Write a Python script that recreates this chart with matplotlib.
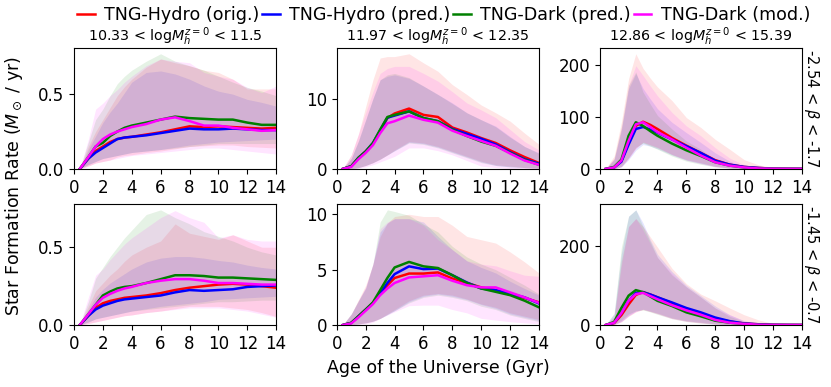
import matplotlib
matplotlib.use('Agg')
import matplotlib.pyplot as plt
import numpy as np

# age grid (Gyr)
age = [0.4, 1, 1.5, 2, 2.5, 3, 3.5, 4, 5, 6, 7, 8, 9, 10, 11, 12, 13, 14]

labels = ['TNG-Hydro (orig.)', 'TNG-Hydro (pred.)', 'TNG-Dark (pred.)', 'TNG-Dark (mod.)']
colors = ['red', 'blue', 'green', 'magenta']
mass_bins = [r'10.33 < log$M_h^{z=0}$ < 11.5', r'11.97 < log$M_h^{z=0}$ < 12.35',
             r'12.86 < log$M_h^{z=0}$ < 15.39']
beta_bins = [r'-2.54 < $\beta$ < -1.7', r'-1.45 < $\beta$ < -0.7']

# ---- row 1, col 1
a_red = [0, .07, .12, .15, .18, .20, .21, .215, .23, .245, .265, .285, .28, .285, .28, .275, .27, .275]
a_blue = [0, .07, .11, .14, .17, .20, .21, .215, .225, .24, .255, .27, .265, .265, .27, .265, .26, .26]
a_green = [0, .08, .15, .175, .22, .25, .275, .29, .31, .33, .35, .34, .335, .33, .33, .31, .295, .295]
a_mag = [0, .08, .15, .20, .23, .25, .265, .28, .30, .33, .345, .32, .29, .29, .275, .265, .255, .26]
a_red_lo = [0, .02, .04, .05, .06, .08, .09, .095, .11, .12, .135, .15, .155, .16, .16, .15, .145, .14]
a_red_hi = [0, .15, .25, .33, .41, .49, .55, .60, .68, .735, .71, .69, .66, .645, .60, .535, .535, .535]
a_blue_lo = [0, .03, .05, .07, .08, .09, .10, .11, .12, .13, .145, .16, .17, .18, .185, .19, .195, .20]
a_blue_hi = [0, .13, .22, .31, .38, .44, .51, .58, .645, .655, .635, .60, .555, .52, .50, .465, .445, .42]
a_green_lo = [0, .03, .05, .07, .08, .09, .10, .11, .12, .13, .14, .15, .16, .17, .17, .17, .17, .17]
a_green_hi = [0, .18, .33, .40, .49, .57, .62, .66, .72, .77, .72, .69, .66, .62, .58, .545, .52, .49]
a_mag_lo = [0, .02, .04, .05, .06, .07, .08, .09, .10, .11, .12, .13, .14, .14, .13, .12, .11, .10]
a_mag_hi = [0, .20, .40, .44, .49, .53, .58, .62, .69, .735, .72, .71, .645, .62, .60, .545, .51, .555]

# ---- row 1, col 2
b_red = [0, .4, 1.6, 2.5, 3.6, 5.35, 7.25, 7.9, 8.6, 7.7, 7.4, 5.9, 5.2, 4.4, 3.7, 2.65, 1.7, .85]
b_blue = [0, .4, 1.6, 2.5, 3.7, 5.5, 7.3, 7.6, 8.2, 7.25, 6.8, 5.7, 5.0, 4.3, 3.5, 2.4, 1.4, .75]
b_green = [0, .4, 1.6, 2.5, 3.7, 5.6, 7.4, 7.7, 8.2, 7.25, 6.8, 5.6, 4.7, 3.9, 3.3, 2.3, 1.3, .6]
b_mag = [0, .3, 1.4, 2.3, 3.4, 5.1, 6.5, 6.8, 7.6, 7.0, 6.6, 5.45, 4.7, 4.0, 3.3, 2.2, 1.2, .6]
b_red_lo = [0, .05, .2, .5, .9, 1.4, 2.0, 2.7, 3.9, 3.7, 3.2, 2.5, 1.8, 1.1, .6, .4, .2, .1]
b_red_hi = [0, 2.0, 5.0, 8.9, 12.7, 15.8, 16.0, 16.0, 16.4, 15.1, 13.9, 12.0, 10.6, 9.1, 8.0, 6.8, 5.1, 3.5]
b_blue_lo = [0, .05, .2, .5, .9, 1.4, 2.0, 2.6, 3.8, 3.6, 3.1, 2.4, 1.7, 1.0, .5, .3, .2, .1]
b_blue_hi = [0, 1.5, 4.0, 7.0, 10.0, 12.7, 13.2, 13.4, 12.9, 11.8, 10.6, 9.4, 8.0, 7.0, 6.1, 4.6, 3.2, 2.3]
b_green_lo = [0, .05, .2, .5, .9, 1.4, 2.0, 2.6, 3.7, 3.5, 3.0, 2.3, 1.6, .9, .5, .3, .2, .1]
b_green_hi = [0, 1.5, 4.0, 7.0, 10.0, 12.7, 13.4, 13.6, 13.0, 11.8, 10.6, 9.3, 8.0, 7.0, 6.0, 4.5, 3.2, 2.2]
b_mag_lo = [0, .02, .1, .3, .6, 1.0, 1.4, 1.8, 3.0, 3.0, 2.6, 2.0, 1.2, .4, .2, .05, 0, 0]
b_mag_hi = [0, 2.0, 5.0, 8.0, 11.0, 13.6, 14.3, 14.6, 14.6, 13.6, 12.5, 11.0, 9.4, 8.4, 7.3, 5.6, 3.9, 2.7]

# ---- row 1, col 3
c_red = [0, 3, 15, 51, 83, 91, 85, 77, 60, 45, 31, 17, 8.4, 4, 2, .6, .3, .2]
c_blue = [0, 3, 14, 47, 77, 81, 76, 70, 57, 44, 31, 16, 8.4, 4, 2, .6, .3, .2]
c_green = [0, 4, 18, 64, 90, 83, 73, 64, 49, 36, 25, 13, 6.5, 3, 1, .5, .3, .2]
c_mag = [0, 3, 16, 54, 86, 90, 81, 71, 57, 41, 26, 13, 6.5, 3, 1, .5, .3, .2]
c_red_lo = [0, .5, 5, 21, 40, 51, 46, 41, 28, 18, 12, 5, 2, 1, 0, 0, 0, 0]
c_red_hi = [0, 25, 90, 174, 222, 194, 175, 158, 132, 99, 80, 57, 38, 18, 8, 3, 1, 1]
c_blue_lo = [0, .5, 4, 18, 36, 47, 44, 39, 27, 17, 11, 5, 2, 1, 0, 0, 0, 0]
c_blue_hi = [0, 18, 75, 155, 184, 155, 135, 116, 90, 70, 51, 31, 15, 5, 2, 1, .5, .5]
c_green_lo = [0, .5, 5, 22, 42, 50, 44, 38, 25, 15, 9, 4, 1.5, .5, 0, 0, 0, 0]
c_green_hi = [0, 20, 80, 161, 187, 148, 125, 103, 77, 54, 38, 18, 8, 3, 1, .5, .3, .3]
c_mag_lo = [0, .5, 4, 20, 40, 52, 47, 42, 28, 17, 10, 4, 1.5, .5, 0, 0, 0, 0]
c_mag_hi = [0, 20, 80, 161, 199, 180, 160, 141, 109, 83, 64, 41, 21, 8, 3, 1, .5, .5]

# ---- row 2, col 1
d_red = [0, .06, .11, .14, .155, .165, .175, .18, .19, .205, .225, .24, .25, .26, .265, .26, .25, .24]
d_blue = [0, .06, .10, .125, .14, .155, .165, .17, .18, .19, .21, .225, .22, .225, .23, .245, .25, .255]
d_green = [0, .07, .13, .19, .215, .235, .245, .25, .27, .295, .32, .32, .315, .305, .305, .30, .295, .29]
d_mag = [0, .07, .13, .175, .20, .22, .235, .245, .27, .285, .295, .295, .285, .27, .27, .265, .26, .26]
d_red_lo = [0, .01, .02, .03, .04, .05, .06, .065, .08, .09, .105, .12, .12, .12, .11, .10, .08, .055]
d_red_hi = [0, .12, .22, .27, .32, .36, .41, .45, .50, .54, .65, .59, .57, .55, .58, .54, .50, .50]
d_blue_lo = [0, .02, .04, .05, .06, .07, .08, .09, .105, .12, .13, .14, .15, .165, .17, .175, .18, .185]
d_blue_hi = [0, .10, .18, .23, .27, .30, .33, .36, .405, .43, .44, .44, .43, .415, .405, .385, .37, .36]
d_green_lo = [0, .02, .04, .05, .06, .07, .08, .09, .10, .11, .12, .13, .14, .15, .15, .155, .16, .16]
d_green_hi = [0, .15, .30, .37, .44, .50, .56, .61, .71, .74, .69, .65, .60, .57, .54, .50, .47, .45]
d_mag_lo = [0, .01, .02, .03, .04, .05, .06, .065, .08, .09, .10, .11, .11, .11, .10, .09, .07, .05]
d_mag_hi = [0, .18, .32, .36, .42, .47, .52, .56, .625, .69, .735, .69, .66, .56, .58, .55, .54, .54]

# ---- row 2, col 2
e_red = [0, .2, .8, 1.4, 2.0, 2.85, 3.6, 4.25, 4.65, 4.65, 4.75, 4.2, 3.8, 3.4, 3.15, 2.75, 2.45, 2.05]
e_blue = [0, .2, .8, 1.4, 2.0, 2.85, 3.8, 4.6, 5.3, 5.05, 5.1, 4.5, 3.85, 3.3, 3.15, 2.85, 2.5, 1.95]
e_green = [0, .2, .8, 1.4, 2.05, 3.15, 4.25, 5.2, 5.7, 5.3, 5.15, 4.5, 3.8, 3.3, 3.0, 2.7, 2.2, 1.6]
e_mag = [0, .15, .7, 1.3, 1.9, 2.7, 3.3, 3.8, 4.3, 4.4, 4.5, 4.0, 3.6, 3.4, 3.4, 2.95, 2.5, 2.0]
e_red_lo = [0, .02, .1, .2, .35, .6, 1.0, 1.4, 2.2, 2.7, 2.85, 2.7, 2.35, 1.9, 1.6, 1.1, .8, .5]
e_red_hi = [0, 1.0, 2.3, 3.6, 5.5, 8.0, 9.2, 9.8, 10.0, 9.8, 9.8, 9.0, 8.0, 7.7, 7.4, 6.6, 5.7, 4.7]
e_blue_lo = [0, .02, .1, .2, .35, .6, .95, 1.3, 2.1, 2.6, 2.8, 2.6, 2.3, 1.85, 1.5, 1.0, .7, .4]
e_blue_hi = [0, 1.0, 2.2, 3.4, 5.5, 8.4, 9.2, 9.6, 9.6, 9.3, 8.0, 6.8, 5.8, 5.2, 4.7, 3.95, 3.3, 2.7]
e_green_lo = [0, .02, .1, .2, .35, .6, .95, 1.3, 2.0, 2.5, 2.7, 2.5, 2.2, 1.7, 1.4, .9, .6, .3]
e_green_hi = [0, 1.0, 2.2, 3.3, 5.5, 9.3, 10.4, 10.25, 9.9, 9.1, 8.4, 7.1, 6.15, 5.5, 5.0, 4.3, 3.6, 2.8]
e_mag_lo = [0, .01, .05, .1, .25, .6, .9, 1.2, 1.75, 1.8, 1.8, 1.4, 1.1, .6, .45, .3, .2, .1]
e_mag_hi = [0, 1.0, 2.2, 3.4, 5.5, 8.7, 9.3, 9.6, 9.6, 9.0, 7.7, 6.8, 5.8, 5.5, 5.35, 4.9, 4.5, 4.4]

# ---- row 2, col 3
f_red = [0, 5, 25, 52, 76, 83, 77, 70, 55, 41, 29, 16, 9, 4, 2, .6, .3, .2]
f_blue = [0, 6, 30, 61, 81, 83, 77, 70, 57, 43, 32, 19, 10, 4, 2, .6, .3, .2]
f_green = [0, 8, 43, 74, 88, 83, 72, 61, 48, 32, 22, 11, 6, 3, 1, .5, .3, .2]
f_mag = [0, 6, 30, 61, 78, 81, 73, 65, 50, 37, 26, 13, 6, 3, 1, .5, .3, .2]
f_red_lo = [0, 1, 8, 22, 33, 39, 34, 29, 17, 10, 6, 3, 1, .5, 0, 0, 0, 0]
f_red_hi = [0, 20, 161, 248, 268, 248, 222, 196, 143, 104, 78, 61, 43, 26, 13, 4, 1, 1]
f_blue_lo = [0, 1, 9, 24, 35, 40, 35, 30, 18, 11, 7, 3, 1, .5, 0, 0, 0, 0]
f_blue_hi = [0, 28, 180, 274, 290, 257, 215, 178, 135, 100, 74, 48, 26, 11, 4, 1, .5, .5]
f_green_lo = [0, 2, 12, 28, 36, 38, 33, 27, 16, 9, 5, 2, 1, .5, 0, 0, 0, 0]
f_green_hi = [0, 30, 196, 274, 290, 248, 210, 170, 126, 96, 70, 43, 22, 9, 3, 1, .5, .5]
f_mag_lo = [0, 1, 9, 23, 34, 39, 34, 28, 16, 9, 5, 2, 1, .5, 0, 0, 0, 0]
f_mag_hi = [0, 20, 150, 248, 268, 239, 205, 170, 130, 96, 70, 43, 26, 11, 4, 1, .5, .5]

panels = [
    [(a_red, a_red_lo, a_red_hi), (a_blue, a_blue_lo, a_blue_hi),
     (a_green, a_green_lo, a_green_hi), (a_mag, a_mag_lo, a_mag_hi)],
    [(b_red, b_red_lo, b_red_hi), (b_blue, b_blue_lo, b_blue_hi),
     (b_green, b_green_lo, b_green_hi), (b_mag, b_mag_lo, b_mag_hi)],
    [(c_red, c_red_lo, c_red_hi), (c_blue, c_blue_lo, c_blue_hi),
     (c_green, c_green_lo, c_green_hi), (c_mag, c_mag_lo, c_mag_hi)],
    [(d_red, d_red_lo, d_red_hi), (d_blue, d_blue_lo, d_blue_hi),
     (d_green, d_green_lo, d_green_hi), (d_mag, d_mag_lo, d_mag_hi)],
    [(e_red, e_red_lo, e_red_hi), (e_blue, e_blue_lo, e_blue_hi),
     (e_green, e_green_lo, e_green_hi), (e_mag, e_mag_lo, e_mag_hi)],
    [(f_red, f_red_lo, f_red_hi), (f_blue, f_blue_lo, f_blue_hi),
     (f_green, f_green_lo, f_green_hi), (f_mag, f_mag_lo, f_mag_hi)],
]
yticks = [[0, 0.5], [0, 10], [0, 100, 200], [0, 0.5], [0, 5, 10], [0, 200]]

fig, axes = plt.subplots(2, 3, figsize=(8.31, 3.87), dpi=100)
fig.subplots_adjust(left=0.089, right=0.965, top=0.876, bottom=0.160,
                    wspace=0.30, hspace=0.29)

for k, ax in enumerate(axes.flat):
    for (med, lo, hi), col, lab in zip(panels[k], colors, labels):
        ax.fill_between(age, lo, hi, color=col, alpha=0.1, lw=0)
        ax.plot(age, med, color=col, lw=1.8, label=lab)
    ax.set_xlim(0, 14)
    ax.set_ylim(bottom=0)
    ax.set_xticks(range(0, 15, 2))
    ax.set_yticks(yticks[k])
    ax.tick_params(labelsize=12)
    if k < 3:
        ax.set_title(mass_bins[k], fontsize=10.3, pad=4)

axes[0, 0].set_yticklabels(['0.0', '0.5'])
axes[1, 0].set_yticklabels(['0.0', '0.5'])

for r in range(2):
    axes[r, 2].yaxis.set_label_position('right')
    axes[r, 2].set_ylabel(beta_bins[r], rotation=270, fontsize=10.5, labelpad=14)

handles, labs = axes[0, 0].get_legend_handles_labels()
fig.legend(handles, labs, loc='center', bbox_to_anchor=(0.534, 0.962), ncol=4,
           frameon=False, fontsize=12.6, handlelength=1.0, columnspacing=0.15,
           handletextpad=0.55, borderpad=0.1)

fig.text(0.017, 0.52, r'Star Formation Rate ($M_\odot$ / yr)', rotation=90,
         ha='center', va='center', fontsize=12.5)
fig.text(0.527, 0.048, 'Age of the Universe (Gyr)', ha='center', va='center',
         fontsize=12.5)

fig.savefig('out.png', dpi=100)
